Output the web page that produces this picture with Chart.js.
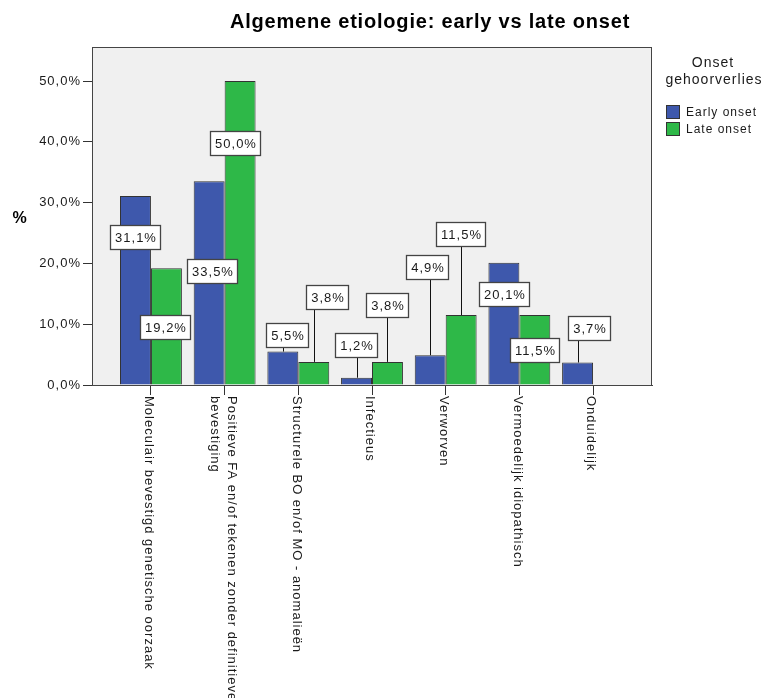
<!DOCTYPE html>
<html>
<head>
<meta charset="utf-8">
<script src="https://cdn.jsdelivr.net/npm/chart.js@4.4.1/dist/chart.umd.min.js"></script>
<style>
  html, body { margin: 0; padding: 0; background: #ffffff; }
  canvas { display: block; }
</style>
</head>
<body>
<canvas id="c" width="770" height="698"></canvas>
<script>
// Etiology categories (each entry = the lines of its axis label)
const categories = [
  ['Moleculair bevestigd genetische oorzaak'],
  ['Positieve FA en/of tekenen zonder definitieve', 'bevestiging'],
  ['Structurele BO en/of MO - anomalieën'],
  ['Infectieus'],
  ['Verworven'],
  ['Vermoedelijk idiopathisch'],
  ['Onduidelijk']
];
const seriesNames = ['Early onset', 'Late onset'];
const earlyOnset = [31.1, 33.5, 5.5, 1.2, 4.9, 20.1, 3.7];
const lateOnset = [19.2, 50.0, 3.8, 3.8, 11.5, 11.5, null];
const yTicks = [0, 10, 20, 30, 40, 50];

const chartTitle = 'Algemene etiologie: early vs late onset';
const yTitle = '%';
const legendTitle = ['Onset', 'gehoorverlies'];

// Placement of the value boxes: height on the % scale, sideways nudge in px
const earlyLabelAt = [24.4, 18.8, 8.2, 6.6, 19.4, 14.9, 9.4];
const earlyLabelDx = [0, 3, 4, -1, -3, 0, 11];
const lateLabelAt = [9.6, 39.8, 14.4, 13.2, 24.8, 5.7, null];
const lateLabelDx = [-1, -5, 13, 0, -1, 0, 0];

const FONT = "'Liberation Sans', Arial, sans-serif";
const TEXT = '#1a1a1a';
const COLORS = ['#3e58ac', '#2eb848'];
const fmt = v => v.toFixed(1).replace('.', ',') + '%';

const decor = {
  id: 'decor',
  beforeDraw(chart) {
    const { ctx, chartArea: a } = chart;
    ctx.letterSpacing = '1px';
    ctx.save();
    ctx.fillStyle = '#f0f0f0';
    ctx.fillRect(a.left, a.top, a.right - a.left, a.bottom - a.top);
    ctx.restore();
  },
  afterDatasetsDraw(chart) {
    const { ctx, chartArea: a } = chart;
    const yScale = chart.scales.y;
    ctx.save();
    // plot frame
    ctx.strokeStyle = '#444';
    ctx.lineWidth = 1;
    ctx.strokeRect(a.left + 0.5, a.top + 0.5, a.right - a.left - 1, a.bottom - a.top);

    // value boxes
    const layouts = [[earlyLabelAt, earlyLabelDx], [lateLabelAt, lateLabelDx]];
    layouts.forEach(([at, dx], di) => {
      const meta = chart.getDatasetMeta(di);
      const values = chart.data.datasets[di].data;
      meta.data.forEach((bar, i) => {
        const v = values[i].y;
        if (v == null || at[i] == null) return;
        const text = fmt(v);
        ctx.font = '13px ' + FONT;
        const w = Math.round(ctx.measureText(text).width + 8);
        const h = 24;
        const cx = bar.x + dx[i];
        const cy = yScale.getPixelForValue(at[i]);
        const left = Math.round(cx - w / 2) + 0.5;
        const top = Math.round(cy - h / 2) + 0.5;
        if (top + h < bar.y) {
          ctx.strokeStyle = '#111';
          ctx.lineWidth = 1;
          const lx = Math.round(bar.x) + 0.5;
          ctx.beginPath();
          ctx.moveTo(lx, top + h);
          ctx.lineTo(lx, bar.y);
          ctx.stroke();
        }
        ctx.fillStyle = '#ffffff';
        ctx.fillRect(left, top, w, h);
        ctx.strokeStyle = '#444';
        ctx.lineWidth = 1.3;
        ctx.strokeRect(left, top, w, h);
        ctx.fillStyle = TEXT;
        ctx.textAlign = 'center';
        ctx.textBaseline = 'middle';
        ctx.fillText(text, left + w / 2 + 0.5, top + h / 2 + 1);
      });
    });
    ctx.restore();
  },
  afterDraw(chart) {
    const { ctx, chartArea: a } = chart;
    const xScale = chart.scales.x;
    ctx.save();
    ctx.fillStyle = TEXT;

    // category labels, rotated to read downwards
    ctx.font = '13px ' + FONT;
    ctx.textAlign = 'left';
    ctx.textBaseline = 'middle';
    const lineH = 17;
    categories.forEach((lines, i) => {
      const x = xScale.getPixelForValue(i);
      ctx.save();
      ctx.translate(x - 2 + (lines.length - 1) * lineH / 2, a.bottom + 11);
      ctx.rotate(Math.PI / 2);
      lines.forEach((ln, k) => ctx.fillText(ln, 0, k * lineH));
      ctx.restore();
    });

    // chart title
    ctx.letterSpacing = '0.8px';
    ctx.font = 'bold 20px ' + FONT;
    ctx.textAlign = 'center';
    ctx.textBaseline = 'middle';
    ctx.fillStyle = '#000';
    ctx.fillText(chartTitle, 430, 22);
    ctx.letterSpacing = '1px';

    // y axis title
    ctx.font = 'bold 16px ' + FONT;
    ctx.fillText(yTitle, 20, 219);

    // legend
    ctx.fillStyle = TEXT;
    ctx.font = '14px ' + FONT;
    ctx.fillText(legendTitle[0], 713, 63);
    ctx.fillText(legendTitle[1], 714, 80);
    ctx.font = '12px ' + FONT;
    ctx.textAlign = 'left';
    chart.data.datasets.forEach((ds, i) => {
      const y = 105 + i * 17;
      ctx.fillStyle = ds.backgroundColor;
      ctx.fillRect(666.5, y + 0.5, 13, 13);
      ctx.strokeStyle = '#333';
      ctx.lineWidth = 1;
      ctx.strokeRect(666.5, y + 0.5, 13, 13);
      ctx.fillStyle = TEXT;
      ctx.fillText(ds.label, 686, y + 7.5);
    });
    ctx.restore();
  }
};

const toPoints = arr => arr.map((v, i) => ({ x: i, y: v }));

new Chart(document.getElementById('c'), {
  type: 'bar',
  data: {
    datasets: [
      { label: seriesNames[0], data: toPoints(earlyOnset), backgroundColor: COLORS[0],
        borderColor: '#333', borderWidth: 1 },
      { label: seriesNames[1], data: toPoints(lateOnset), backgroundColor: COLORS[1],
        borderColor: '#333', borderWidth: 1 }
    ]
  },
  options: {
    responsive: false,
    animation: false,
    events: [],
    layout: { padding: { top: 47, right: 118, left: 0, bottom: 0 } },
    datasets: { bar: { categoryPercentage: 0.84, barPercentage: 1.0 } },
    plugins: { legend: { display: false }, title: { display: false }, tooltip: { enabled: false } },
    scales: {
      x: {
        type: 'linear',
        offset: false,
        min: -0.8,
        max: 6.8,
        afterBuildTicks: s => { s.ticks = categories.map((_, i) => ({ value: i })); },
        afterFit: s => { s.height = 313; },
        ticks: { display: false },
        grid: { offset: false, drawOnChartArea: false, drawTicks: true, tickLength: 10, color: '#333' },
        border: { color: '#444' }
      },
      y: {
        min: 0,
        max: 55.6,
        afterBuildTicks: s => { s.ticks = yTicks.map(v => ({ value: v })); },
        afterFit: s => { s.width = 92; },
        ticks: {
          padding: 2,
          color: TEXT,
          font: { family: FONT, size: 13 },
          callback: v => fmt(v)
        },
        grid: { drawOnChartArea: false, drawTicks: true, tickLength: 9, color: '#333' },
        border: { color: '#444' }
      }
    }
  },
  plugins: [decor]
});
</script>
</body>
</html>
